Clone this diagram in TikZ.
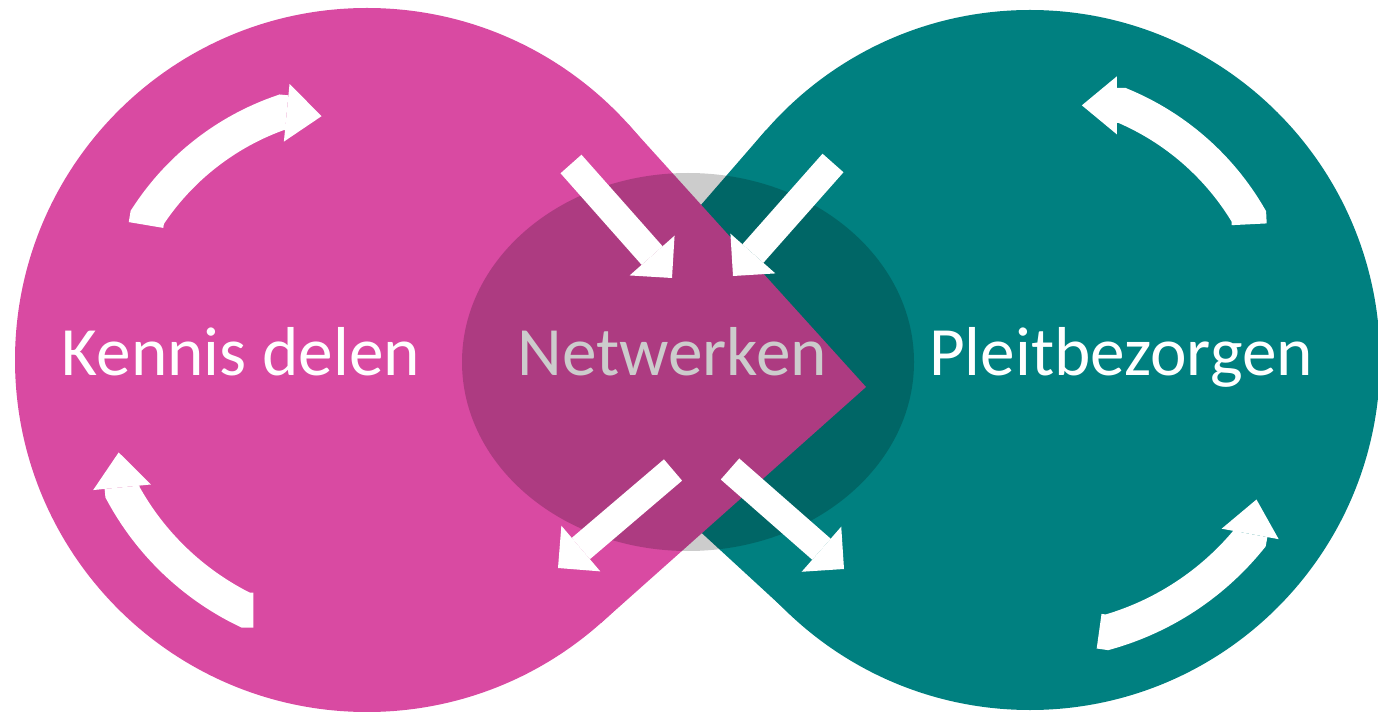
\documentclass[tikz,border=0pt]{standalone}
\usepackage{fontspec}
\setmainfont{Carlito}
\usetikzlibrary{arrows.meta}
\definecolor{roze}{HTML}{D94AA2}
\definecolor{petrol}{HTML}{008080}

\begin{document}
\begin{tikzpicture}[x=0.02cm,y=-0.02cm,
    tekst/.style={text=white,font=\fontsize{39.4}{47}\selectfont,anchor=base,inner sep=0pt},
    pijl/.style={draw=white,line width=0.56cm,-{Triangle[length=0.6cm,width=1.2cm,line width=0pt]}},
    kring/.style={draw=white,line width=0.7cm,-{Triangle[length=0.7cm,width=1.16cm,line width=0pt]}}]
      \useasboundingbox (0,0) rectangle (1378,712);
      % two drops
      \fill[petrol] (1030,360) circle (350);
      \fill[petrol] (766,130) -- (543,387) -- (793,617) -- (1030,360) -- cycle;
      \fill[roze] (367,360) circle (352);
      \fill[roze] (628,124) -- (866,387) -- (601,623) -- (367,360) -- cycle;
      \node[tekst] (netwerken) at (672,376) {Netwerken};
      \fill[black,opacity=0.2] (688,362) ellipse (226 and 189);
      \node[tekst] (kennis) at (241,376) {Kennis delen};
      \node[tekst] (pleit) at (1121,376) {Pleitbezorgen};
      % arrows round the circles
      \draw[kring] (146,225) -- (147.3,217.3) arc[start angle=-147,end angle=-109,radius=262] -- ++(5.6:40);
      \draw[kring] (253.4,610) -- (245.4,610) arc[start angle=115.95,end angle=151.6,radius=278] -- ++(264.5:40);
      \draw[kring] (1249.2,224.3) -- (1248.8,216.3) arc[start angle=-30.3,end angle=-67.4,radius=265] -- ++(180:40);
      \draw[kring] (1099.1,631.2) -- (1107,632.3) arc[start angle=74.2,end angle=39.2,radius=283] -- ++(-79.6:40);
      % arrows in and out
      \draw[pijl] (571,164) -- (672,278);
      \draw[pijl] (833,163) -- (733,276);
      \draw[pijl] (673,470) -- (558,568);
      \draw[pijl] (730,469) -- (844,569);
\end{tikzpicture}
\end{document}
